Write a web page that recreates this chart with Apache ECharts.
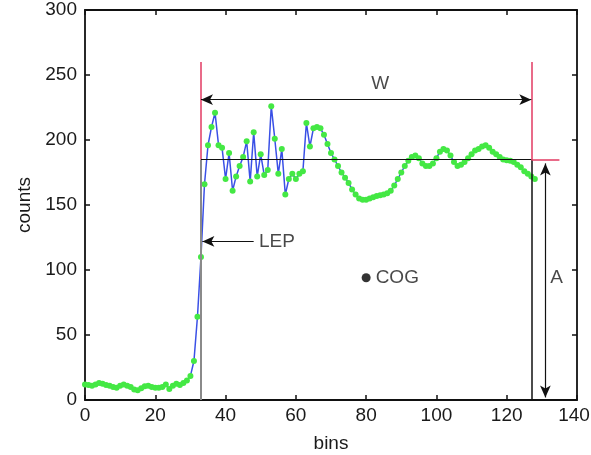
<!DOCTYPE html>
<html><head><meta charset="utf-8">
<script src="https://cdn.jsdelivr.net/npm/echarts@6/dist/echarts.min.js"></script>
<style>html,body{margin:0;padding:0;background:#fff}#c{width:591px;height:455px}</style>
</head><body><div id="c"></div>
<script>
// ---- data ----
const bins = [0,1,2,3,4,5,6,7,8,9,10,11,12,13,14,15,16,17,18,19,20,21,22,23,24,25,26,27,28,29,30,
  31,32,33,34,35,36,37,38,39,40,41,42,43,44,45,46,47,48,49,50,51,52,53,54,55,56,57,58,59,60,
  61,62,63,64,65,66,67,68,69,70,71,72,73,74,75,76,77,78,79,80,81,82,83,84,85,86,87,88,89,90,
  91,92,93,94,95,96,97,98,99,100,101,102,103,104,105,106,107,108,109,110,111,112,113,114,115,
  116,117,118,119,120,121,122,123,124,125,126,127,128];
const counts = [12,11.5,11,12,13,12.5,11.5,11,10,9.5,11,12,11,10,8,7.5,9,10.5,11,10,9.5,
  9.5,10,12,8.5,11,12.5,11.5,13,15,18.5,
  30,64,110,166,196,210,221,196,194,170,190,161,172,180,187,199,168,206,172,189,
  173,177,226,201,174,193,158,170,174,170,174,176,213,195,209,210,209,204,197,190,
  185,180,175,171,167,162,158,155,154,154,155,156,157,157.5,158,159,161,165,170,175,
  180,184,187,188,186,182,180,180,182,186,191,193,192,188,183,180,181,183,186,189,
  192,193,195,196,194,191,189,187,185,184.5,184,183,181,179,176,174,172,170];
const xTicks = [0, 140, 20];   // min, max, interval
const yTicks = [0, 300, 50];

// annotation values (data units)
const lepBin = 33, trailBin = 127, threshold = 185, markTop = 260;
const wLevel = 231, redRightEnd = 135;
const aBin = 131, aTop = 182, aBottom = 2;
const lepArrowLevel = 122, lepArrowFrom = 48;
const cogBin = 80, cogCount = 94;
const labelW = [84, 243], labelLEP = [49.5, 122], labelA = [134.2, 94];

const FONT = 'Liberation Sans, Arial, Helvetica, sans-serif';
const FS = 19;
const TXT = '#1a1a1a';
const RED = '#e23a62';

const chart = echarts.init(document.getElementById('c'), null, {renderer: 'canvas'});
const axisCommon = {
  type: 'value', splitLine: {show: false},
  axisLine: {show: true, onZero: false, lineStyle: {color: '#111', width: 1.8}},
  axisTick: {show: true, inside: true, length: 5, lineStyle: {color: '#111', width: 1.5}},
};
const ln = (a, b, color, width, s0, s1) => [
  {coord: a, symbol: s0 || 'none', lineStyle: {color, width, type: 'solid'}},
  {coord: b, symbol: s1 || 'none'}
];

chart.setOption({
  animation: false,
  backgroundColor: '#fff',
  grid: {left: 85, right: 14, top: 10, bottom: 55, containLabel: false, outerBoundsMode: 'none'},
  xAxis: [
    Object.assign({}, axisCommon, {position: 'bottom', min: xTicks[0], max: xTicks[1], interval: xTicks[2],
      name: 'bins', nameLocation: 'middle', nameGap: 34,
      nameTextStyle: {fontFamily: FONT, fontSize: FS, color: TXT},
      axisLabel: {fontFamily: FONT, fontSize: FS, color: TXT, margin: 6,
        formatter: v => v === xTicks[1] ? '{m|' + v + '}' : String(v),
        rich: {m: {fontFamily: FONT, fontSize: FS, color: TXT, padding: [0, 6, 0, 0]}}}}),
    Object.assign({}, axisCommon, {position: 'top', min: xTicks[0], max: xTicks[1], interval: xTicks[2],
      axisLabel: {show: false}})
  ],
  yAxis: [
    Object.assign({}, axisCommon, {position: 'left', min: yTicks[0], max: yTicks[1], interval: yTicks[2],
      name: 'counts', nameLocation: 'middle', nameGap: 49, nameRotate: 90,
      nameTextStyle: {fontFamily: FONT, fontSize: FS, color: TXT},
      axisLabel: {fontFamily: FONT, fontSize: FS, color: TXT, margin: 8}}),
    Object.assign({}, axisCommon, {position: 'right', min: yTicks[0], max: yTicks[1], interval: yTicks[2],
      axisLabel: {show: false}})
  ],
  series: [
    {
      type: 'line', name: 'annotations', data: [], z: 2, silent: true,
      markLine: {
        silent: true, animation: false, symbolSize: [8, 12],
        label: {show: false},
        data: [
          ln([lepBin, 0], [lepBin, threshold], '#8a8a8a', 2),
          ln([lepBin, threshold], [lepBin, markTop], RED, 1.5),
          ln([trailBin, 0], [trailBin, threshold], '#111', 1.5),
          ln([trailBin, threshold], [trailBin, markTop], RED, 1.5),
          ln([lepBin, threshold], [trailBin, threshold], '#111', 1.2),
          ln([trailBin, threshold], [redRightEnd, threshold], RED, 1.5),
          ln([lepBin, wLevel], [trailBin, wLevel], '#111', 1.2, 'arrow', 'arrow'),
          ln([aBin, aTop], [aBin, aBottom], '#111', 1.2, 'arrow', 'arrow'),
          ln([lepArrowFrom, lepArrowLevel], [lepBin + 0.4, lepArrowLevel], '#111', 1, 'none', 'arrow')
        ]
      }
    },
    {
      type: 'line', name: 'counts', z: 3,
      data: bins.map((b, i) => [b, counts[i]]),
      showSymbol: true, showAllSymbol: true, symbol: 'circle', symbolSize: 6,
      itemStyle: {color: '#44e844'},
      lineStyle: {color: '#3a50e6', width: 1.5},
      emphasis: {disabled: true}
    },
    {
      type: 'scatter', name: 'COG', z: 4,
      data: [[cogBin, cogCount]], symbolSize: 9,
      itemStyle: {color: '#000'},
      label: {show: true, position: 'right', distance: 5, formatter: 'COG',
        fontFamily: FONT, fontSize: FS, color: TXT}
    },
    {
      type: 'scatter', name: 'labels', z: 4, symbolSize: 0,
      data: [
        {value: labelW, label: {formatter: 'W', align: 'center'}},
        {value: labelLEP, label: {formatter: 'LEP', align: 'left'}},
        {value: labelA, label: {formatter: 'A', align: 'center'}}
      ],
      label: {show: true, position: 'inside', fontFamily: FONT, fontSize: FS, color: TXT, verticalAlign: 'middle'}
    }
  ]
});
</script></body></html>
